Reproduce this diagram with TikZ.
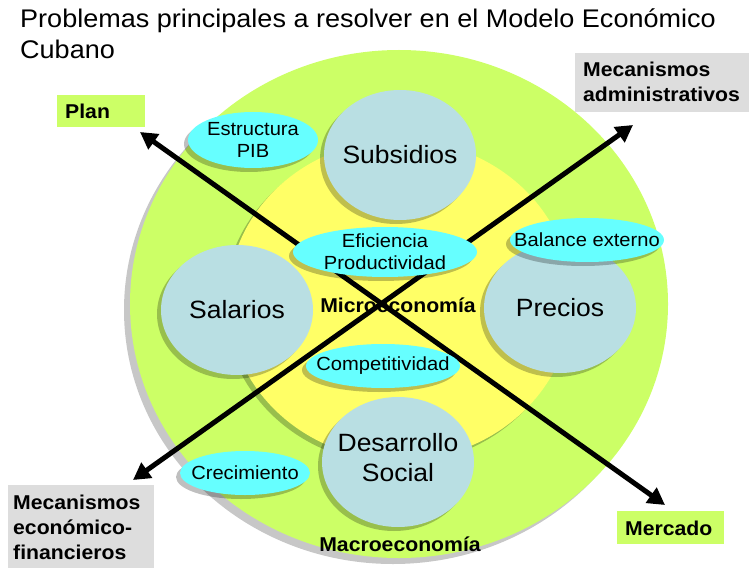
\documentclass[tikz,border=0pt]{standalone}
\usepackage{fontspec}
\setmainfont{Liberation Sans}[FakeStretch=1.06]
\usetikzlibrary{shapes.geometric,shadows,arrows.meta}
\definecolor{cgreen}{HTML}{CCFF66}
\definecolor{cyellow}{HTML}{FFFF66}
\definecolor{cblue}{HTML}{B9DFE3}
\definecolor{ccyan}{HTML}{66FFFF}
\definecolor{cgrey}{HTML}{DDDDDD}
\begin{document}
\begin{tikzpicture}[x=1pt,y=-1pt,
  shad/.style={drop shadow={shadow xshift=-4pt,shadow yshift=-4pt,fill=black,opacity=0.25}},
  bigcirc/.style={ellipse,fill=cblue,shad,minimum width=152pt,minimum height=130pt,inner sep=0pt},
  bigtxt/.style={font=\fontsize{25}{30}\selectfont,align=center,inner sep=0pt},
  cyanell/.style={ellipse,fill=ccyan,shad,inner sep=0pt},
  cyantxt/.style={font=\fontsize{19}{22}\selectfont,align=center,inner sep=0pt},
  lbl/.style={inner sep=0pt,font=\bfseries\fontsize{20}{25}\selectfont,align=left},
  zone/.style={font=\bfseries\fontsize{20}{24}\selectfont},
  arr/.style={line width=5pt,{Triangle[length=17pt,width=18pt]}-{Triangle[length=17pt,width=18pt]}}
]
\useasboundingbox (0,0) rectangle (749,572);
% title
\node[anchor=north west,inner sep=0pt,align=left,font=\fontsize{25.5}{31}\selectfont] (title) at (20,9)
  {Problemas principales a resolver en el Modelo Económico\\Cubano};
% circles
\node[ellipse,fill=cgreen,minimum width=538pt,minimum height=508pt,inner sep=0pt,
  drop shadow={shadow xshift=-6pt,shadow yshift=-6pt,fill=black,opacity=0.22}] (macro) at (399,304) {};
\node[ellipse,fill=cyellow,minimum width=344pt,minimum height=320pt,inner sep=0pt,shad] (micro) at (400,300) {};
\node[bigcirc] (sub) at (400,155) {};
\node[bigcirc] (sal) at (237,310) {};
\node[bigcirc] (pre) at (560,308) {};
\node[bigcirc] (des) at (398,462) {};
\node[bigtxt] (subt) at (sub) {Subsidios};
\node[bigtxt] (salt) at (sal) {Salarios};
\node[bigtxt] (pret) at (pre) {Precios};
\node[bigtxt] (dest) at (398,458) {Desarrollo\\Social};
\node[zone] (mictxt) at (398,305) {Microeconomía};
\node[zone] (mactxt) at (400,544) {Macroeconomía};
% arrows
\coordinate (pl) at (140,132);
\coordinate (me) at (665,505);
\coordinate (ef) at (133,480);
\coordinate (ad) at (633,125);
\draw[arr] (pl) -- (me);
\draw[arr] (ef) -- (ad);
% cyan ellipses
\node[cyanell,minimum width=130pt,minimum height=56pt] (pib) at (253,140) {};
\node[cyanell,minimum width=184pt,minimum height=50pt] (efi) at (385,252) {};
\node[cyanell,minimum width=154pt,minimum height=44pt] (bal) at (587,240) {};
\node[cyanell,minimum width=154pt,minimum height=44pt] (com) at (383,366) {};
\node[cyanell,minimum width=130pt,minimum height=44pt] (cre) at (245,473) {};
\node[cyantxt] (pibt) at (pib) {Estructura\\PIB};
\node[cyantxt] (efit) at (efi) {Eficiencia\\Productividad};
\node[cyantxt] (balt) at (bal) {Balance externo};
\node[cyantxt] (comt) at (com) {Competitividad};
\node[cyantxt] (cret) at (cre) {Crecimiento};
% labels
\fill[cgreen] (57,95) rectangle (145,127);
\node[lbl,anchor=west] (plan) at (65,111) {Plan};
\fill[cgrey] (575,53) rectangle (749,112);
\node[lbl,anchor=west] (madm) at (583,82) {Mecanismos\\administrativos};
\fill[cgrey] (8,485) rectangle (154,568);
\node[lbl,anchor=west] (mfin) at (13,527) {Mecanismos\\económico-\\financieros};
\fill[cgreen] (617,511) rectangle (724,544);
\node[lbl,anchor=west] (merc) at (625,528) {Mercado};
\end{tikzpicture}
\end{document}
